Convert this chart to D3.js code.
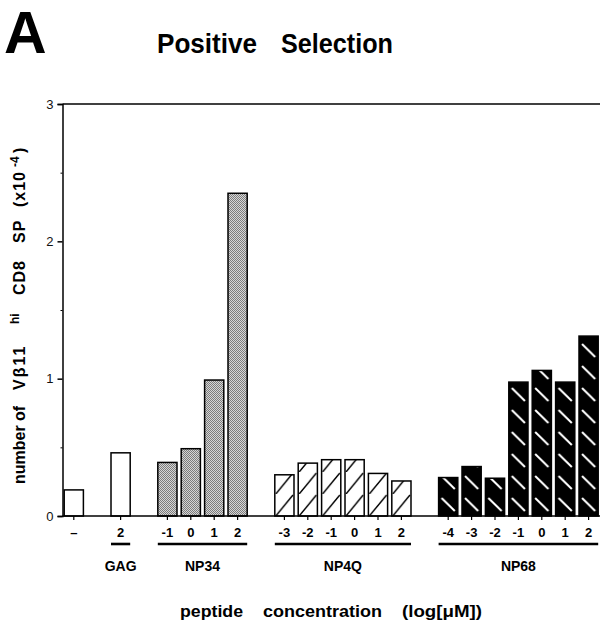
<!DOCTYPE html>
<html><head><meta charset="utf-8">
<script src="https://cdn.jsdelivr.net/npm/d3@7"></script>
<style>
html,body{margin:0;padding:0;background:#fff;}
svg{display:block;font-family:"Liberation Sans",Arial,Helvetica,sans-serif;}
</style></head>
<body><svg id="chart" width="601" height="626"></svg>
<script>
// ---- data ----
const groups = ["ctrl", "GAG", "NP34", "NP4Q", "NP68"];
const groupLabels = ["", "GAG", "NP34", "NP4Q", "NP68"];
const ctrlConc = ["–"];
const gagConc = ["2"];
const np34Conc = ["-1", "0", "1", "2"];
const np4qConc = ["-3", "-2", "-1", "0", "1", "2"];
const np68Conc = ["-4", "-3", "-2", "-1", "0", "1", "2"];
const ctrlValues = [0.19];
const gagValues = [0.46];
const np34Values = [0.39, 0.49, 0.99, 2.35];
const np4qValues = [0.30, 0.385, 0.41, 0.41, 0.31, 0.255];
const np68Values = [0.28, 0.36, 0.275, 0.975, 1.06, 0.975, 1.31];
const yTicks = [0, 1, 2, 3];
const yMinorTicks = [0.5, 1.5, 2.5];

const concByGroup = [ctrlConc, gagConc, np34Conc, np4qConc, np68Conc];
const valuesByGroup = [ctrlValues, gagValues, np34Values, np4qValues, np68Values];
const fills = ["white", "white", "url(#stip)", "hatchF", "hatchB"];

// build rows and slot domain (one empty slot between groups)
const rows = [];
const slots = [];
groups.forEach((g, gi) => {
  if (gi > 0) slots.push("gap" + gi);
  concByGroup[gi].forEach((c, i) => {
    const key = g + "|" + c;
    slots.push(key);
    rows.push({key, group: g, gi, conc: c, value: valuesByGroup[gi][i]});
  });
});

const svg = d3.select("#chart");
const x = d3.scaleBand().domain(slots).range([62.1, 600.3]).paddingInner(0.18).paddingOuter(0.09);
const y = d3.scaleLinear().domain([0, 3]).range([516, 104]);
const bw = x.bandwidth();

const defs = svg.append("defs");
const st = defs.append("pattern").attr("id", "stip").attr("patternUnits", "userSpaceOnUse")
  .attr("width", 2).attr("height", 2);
st.append("rect").attr("width", 2).attr("height", 2).attr("fill", "#d6d6d6");
st.append("rect").attr("width", 1).attr("height", 1).attr("fill", "#7c7c7c");
st.append("rect").attr("x", 1).attr("y", 1).attr("width", 1).attr("height", 1).attr("fill", "#7c7c7c");

// per-bar aligned hatch patterns
rows.forEach((d, i) => {
  if (fills[d.gi] === "hatchF") {
    const p = defs.append("pattern").attr("id", "pat" + i).attr("patternUnits", "userSpaceOnUse")
      .attr("x", x(d.key)).attr("y", y(0)).attr("width", bw).attr("height", 22);
    p.append("rect").attr("width", bw).attr("height", 22).attr("fill", "white");
    p.append("path").attr("d", `M1,22L${bw - 1},1`).attr("stroke", "#000").attr("stroke-width", 1.4).attr("fill", "none");
    d.fill = `url(#pat${i})`;
  } else if (fills[d.gi] === "hatchB") {
    const p = defs.append("pattern").attr("id", "pat" + i).attr("patternUnits", "userSpaceOnUse")
      .attr("x", x(d.key)).attr("y", y(0)).attr("width", bw).attr("height", 22);
    p.append("rect").attr("width", bw).attr("height", 22).attr("fill", "#000");
    p.append("path").attr("d", `M3,4L${bw - 3},17`).attr("stroke", "#fff").attr("stroke-width", 2).attr("fill", "none");
    d.fill = `url(#pat${i})`;
  } else {
    d.fill = fills[d.gi];
  }
});

// frame top line
svg.append("line").attr("x1", 62.5).attr("x2", 600).attr("y1", y(3)).attr("y2", y(3))
  .attr("stroke", "#000").attr("stroke-width", 1.5);

// bars
svg.append("g").selectAll("rect").data(rows).join("rect")
  .attr("x", d => x(d.key)).attr("y", d => y(d.value))
  .attr("width", bw).attr("height", d => y(0) - y(d.value))
  .attr("fill", d => d.fill).attr("stroke", "#000").attr("stroke-width", 1.5);

// y axis
const gy = svg.append("g").attr("transform", "translate(62.5,0)")
  .call(d3.axisLeft(y).tickValues(yTicks).tickSize(5).tickPadding(4).tickFormat(d3.format("d")));
svg.append("g").attr("transform", "translate(62.5,0)")
  .call(d3.axisLeft(y).tickValues(yMinorTicks).tickSize(2).tickFormat(""))
  .call(g => g.select(".domain").remove());
gy.selectAll("text").attr("font-size", 13).attr("font-family", "Liberation Sans, Arial, sans-serif").attr("fill", "#111");
gy.selectAll("path,line").attr("stroke-width", 1.5);

// x axis
const gx = svg.append("g").attr("transform", `translate(0,${y(0)})`)
  .call(d3.axisBottom(x).tickValues(rows.map(d => d.key)).tickSize(4).tickPadding(8)
    .tickFormat(k => rows.find(r => r.key === k).conc));
gx.select(".domain").attr("d", `M62.5,0H600`).attr("stroke-width", 1.5);
gx.selectAll("line").attr("stroke-width", 1.2);
gx.selectAll("text").attr("font-size", 13).attr("font-weight", "bold")
  .attr("font-family", "Liberation Sans, Arial, sans-serif").attr("fill", "#000");

// group underlines and labels
groups.forEach((g, gi) => {
  if (!groupLabels[gi]) return;
  const gr = rows.filter(r => r.gi === gi);
  const x0 = x(gr[0].key), x1 = x(gr[gr.length - 1].key) + bw;
  svg.append("line").attr("x1", x0).attr("x2", x1).attr("y1", 544).attr("y2", 544)
    .attr("stroke", "#000").attr("stroke-width", 2.6);
  svg.append("text").attr("x", (x0 + x1) / 2).attr("y", 571).attr("text-anchor", "middle")
    .attr("font-size", 14).attr("font-weight", "bold").text(groupLabels[gi]);
});

// panel letter and title
svg.append("text").attr("x", 4).attr("y", 53).attr("font-size", 59).attr("font-weight", "bold").text("A");
svg.append("text").attr("x", 157).attr("y", 53).attr("font-size", 28).attr("font-weight", "bold")
  .attr("textLength", 100).attr("lengthAdjust", "spacingAndGlyphs").text("Positive");
svg.append("text").attr("x", 281).attr("y", 53).attr("font-size", 28).attr("font-weight", "bold")
  .attr("textLength", 112).attr("lengthAdjust", "spacingAndGlyphs").text("Selection");

// x axis title
const xt = [["peptide", 180, 63], ["concentration", 263, 119], ["(log[μM])", 402, 80]];
xt.forEach(([t, px, w]) => {
  svg.append("text").attr("x", px).attr("y", 617).attr("font-size", 16).attr("font-weight", "bold")
    .attr("textLength", w).attr("lengthAdjust", "spacingAndGlyphs").text(t);
});

// y axis title (rotated, words placed along the axis)
const yl = svg.append("text").attr("transform", "translate(25,484) rotate(-90)")
  .attr("font-size", 16).attr("font-weight", "bold");
yl.append("tspan").attr("x", 0).attr("y", 0).text("number");
yl.append("tspan").attr("x", 63).attr("y", 0).text("of");
yl.append("tspan").attr("x", 94).attr("y", 0).attr("letter-spacing", 2).text("Vβ11");
yl.append("tspan").attr("x", 160).attr("y", -6).attr("font-size", 12).text("hi");
yl.append("tspan").attr("x", 189).attr("y", 0).attr("letter-spacing", 1).text("CD8");
yl.append("tspan").attr("x", 241).attr("y", 0).attr("letter-spacing", 1).text("SP");
yl.append("tspan").attr("x", 277).attr("y", 0).attr("letter-spacing", 1).text("(x10");
yl.append("tspan").attr("x", 317).attr("y", -6).attr("font-size", 12).text("-4");
yl.append("tspan").attr("x", 331).attr("y", 0).text(")");
</script></body></html>
